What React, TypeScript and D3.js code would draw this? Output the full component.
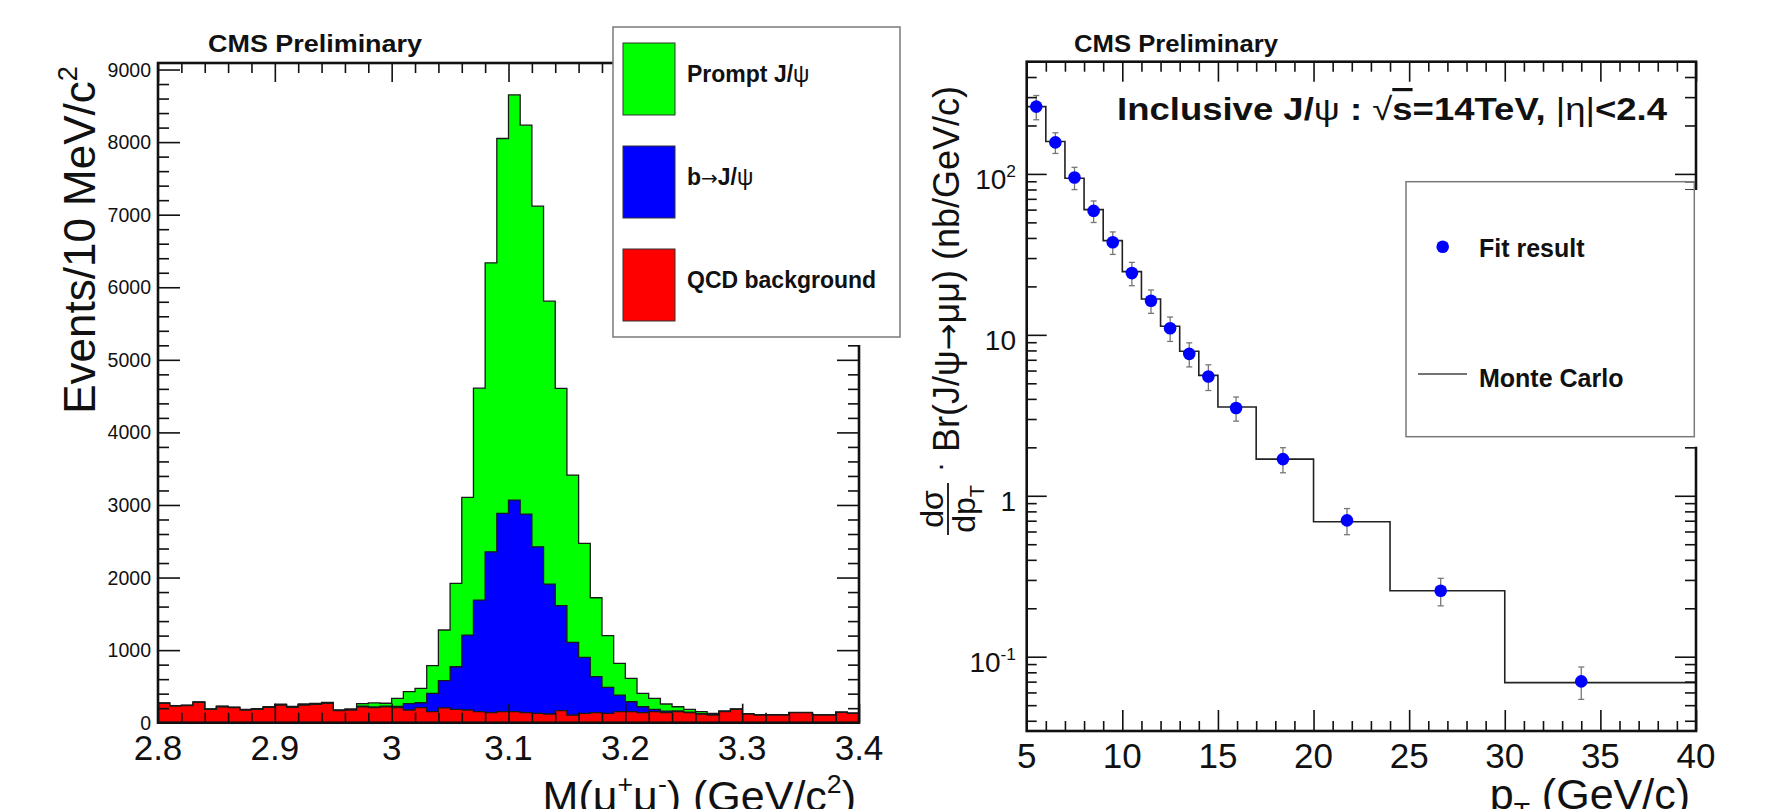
import React, { useEffect, useRef } from "react";
import * as d3 from "d3";

// Left panel: dimuon invariant mass, 10 MeV bins from 2.8 to 3.4 GeV/c2
const massLow = 2.8;
const massHigh = 3.4;
const massBin = 0.01;

const qcdBackground = [
  265, 230, 235, 280, 184, 220, 207, 175, 184, 211,
  244, 211, 244, 253, 267, 166, 175, 220, 207, 220,
  207, 175, 207, 152, 205, 184, 175, 152, 138, 152,
  152, 138, 129, 120, 166, 106, 129, 138, 129, 152,
  152, 138, 152, 138, 152, 138, 120, 106, 152, 184,
  120, 106, 106, 106, 138, 138, 106, 106, 143, 129,
];

const bToJpsi = [
  3, 3, 3, 3, 3, 3, 3, 3, 4, 4,
  4, 5, 5, 5, 5, 4, 5, 8, 9, 8,
  18, 87, 68, 253, 375, 587, 1033, 1538, 2217, 2732,
  2916, 2737, 2295, 1790, 1446, 1001, 772, 496, 359, 229,
  137, 82, 32, 22, 10, 8, 6, 4, 3, 2,
  2, 2, 2, 2, 2, 1, 1, 1, 1, 1,
];

const promptJpsi = [
  4, 3, 4, 4, 4, 5, 5, 5, 5, 7,
  7, 9, 9, 8, 8, 8, 10, 34, 56, 40,
  111, 165, 199, 381, 697, 1149, 1897, 2920, 3981, 5166,
  5582, 5358, 4693, 3898, 2994, 2305, 1570, 1088, 711, 437,
  322, 185, 152, 98, 58, 38, 26, 19, 7, 4,
  3, 3, 3, 3, 2, 2, 2, 2, 2, 2,
];

const massTicks = [2.8, 2.9, 3.0, 3.1, 3.2, 3.3, 3.4];
const massTickLabels = ["2.8", "2.9", "3", "3.1", "3.2", "3.3", "3.4"];
const eventTicks = [0, 1000, 2000, 3000, 4000, 5000, 6000, 7000, 8000, 9000];
const stackLegend = ["Prompt J/", "b", "QCD background"];

// Right panel: differential cross section vs pT
const ptBinEdges = [5, 6, 7, 8, 9, 10, 11, 12, 13, 14, 15, 17, 20, 24, 30, 40];
const ptPoints = [5.5, 6.5, 7.5, 8.5, 9.5, 10.5, 11.5, 12.5, 13.5, 14.5, 15.95, 18.4, 21.75, 26.65, 34.0];
const fitResult = [262, 157, 94.9, 58.9, 37.6, 24.2, 16.3, 11.0, 7.62, 5.51, 3.51, 1.69, 0.703, 0.257, 0.0703];
const fitError = [45, 23, 15, 9, 6, 4, 2.7, 1.9, 1.3, 1.0, 0.6, 0.3, 0.13, 0.05, 0.016];
const monteCarlo = [262, 159, 94, 60, 38.5, 24.7, 16.7, 11.3, 7.9, 5.6, 3.56, 1.69, 0.69, 0.257, 0.069];
const ptTicks = [5, 10, 15, 20, 25, 30, 35, 40];
const sigmaTicks = [0.1, 1, 10, 100];
const sigmaTickLabels = [["10", "-1"], ["1", ""], ["10", ""], ["10", "2"]];

const FONT = "'Liberation Sans', Arial, Helvetica, sans-serif";
const ARROW_FONT = "'DejaVu Sans', sans-serif";
const INK = "#111";

// appends tspans, kind: n = normal, sup, sub
function rich(text: any, parts: [string, string][], fs: number) {
  let shift = 0;
  parts.forEach(([s, kind]) => {
    const target = kind === "sup" ? -0.42 * fs : kind === "sub" ? 0.28 * fs : 0;
    text.append("tspan")
      .attr("dy", target - shift)
      .attr("font-size", kind === "n" ? fs : fs * 0.62)
      .text(s);
    shift = target;
  });
  return text;
}

function ticks(g: any, axis: any, transform: string) {
  const a = g.append("g").attr("transform", transform).call(axis);
  a.select(".domain").remove();
  a.selectAll("text").remove();
  a.selectAll("line").attr("stroke", INK).attr("stroke-width", 1.6);
  return a;
}

function drawMassPanel(g: any) {
  const left = 158, right = 859, top = 63, bottom = 722.7;
  const x = d3.scaleLinear().domain([massLow, massHigh]).range([left, right]);
  const y = d3.scaleLinear().domain([0, 9090]).range([bottom, top]);

  const redTop = qcdBackground;
  const blueTop = redTop.map((v, i) => v + bToJpsi[i]);
  const greenTop = blueTop.map((v, i) => v + promptJpsi[i]);

  const steps = (vals: number[]) => [
    ...vals.map((v, i) => [massLow + i * massBin, v] as [number, number]),
    [massHigh, vals[vals.length - 1]] as [number, number],
  ];
  const area = d3.area<[number, number]>()
    .x(d => x(d[0]))
    .y0(y(0))
    .y1(d => y(d[1]))
    .curve(d3.curveStepAfter);

  const layers: [number[], string][] = [[greenTop, "#00ff00"], [blueTop, "#0000ff"], [redTop, "#ff0000"]];
  layers.forEach(([vals, color]) => {
    g.append("path")
      .attr("d", area(steps(vals)))
      .attr("fill", color)
      .attr("stroke", "#1a1a1a")
      .attr("stroke-width", 1.3);
  });

  const minorX = x.ticks(30).filter(t => !massTicks.some(m => Math.abs(m - t) < 1e-6));
  const minorY = y.ticks(45).filter(t => t % 1000 !== 0);

  ticks(g, d3.axisBottom(x).tickValues(massTicks).tickSize(-19).tickSizeOuter(0), `translate(0,${bottom})`);
  ticks(g, d3.axisBottom(x).tickValues(minorX).tickSize(-10).tickSizeOuter(0), `translate(0,${bottom})`);
  ticks(g, d3.axisTop(x).tickValues(massTicks).tickSize(-19).tickSizeOuter(0), `translate(0,${top})`);
  ticks(g, d3.axisTop(x).tickValues(minorX).tickSize(-10).tickSizeOuter(0), `translate(0,${top})`);
  ticks(g, d3.axisLeft(y).tickValues(eventTicks).tickSize(-22).tickSizeOuter(0), `translate(${left},0)`);
  ticks(g, d3.axisLeft(y).tickValues(minorY).tickSize(-11).tickSizeOuter(0), `translate(${left},0)`);
  ticks(g, d3.axisRight(y).tickValues(eventTicks).tickSize(-22).tickSizeOuter(0), `translate(${right},0)`);
  ticks(g, d3.axisRight(y).tickValues(minorY).tickSize(-11).tickSizeOuter(0), `translate(${right},0)`);

  g.append("rect")
    .attr("x", left).attr("y", top)
    .attr("width", right - left).attr("height", bottom - top)
    .attr("fill", "none").attr("stroke", INK).attr("stroke-width", 2.6);

  massTicks.forEach((t, i) => {
    g.append("text")
      .attr("x", x(t)).attr("y", 760)
      .attr("text-anchor", "middle").attr("font-size", 35)
      .text(massTickLabels[i]);
  });
  eventTicks.forEach(t => {
    g.append("text")
      .attr("x", 151).attr("y", y(t) + 7)
      .attr("text-anchor", "end").attr("font-size", 19.5)
      .text(String(t));
  });

  rich(g.append("text").attr("text-anchor", "end").attr("transform", "translate(95,66) rotate(-90)"),
    [["Events/10 MeV/c", "n"], ["2", "sup"]], 44);

  rich(g.append("text").attr("x", 856).attr("y", 811).attr("text-anchor", "end"),
    [["M(μ", "n"], ["+", "sup"], ["μ", "n"], ["-", "sup"], [") (GeV/c", "n"], ["2", "sup"], [")", "n"]], 43);

  g.append("text")
    .attr("x", 208).attr("y", 52)
    .attr("font-size", 24).attr("font-weight", 700)
    .attr("textLength", 214).attr("lengthAdjust", "spacingAndGlyphs")
    .text("CMS Preliminary");

  // legend
  g.append("rect").attr("x", 613).attr("y", 35).attr("width", 290).attr("height", 310).attr("fill", "#fff");
  g.append("rect").attr("x", 613).attr("y", 27).attr("width", 287).attr("height", 310)
    .attr("fill", "none").attr("stroke", "#7a7a7a").attr("stroke-width", 1.5);
  const boxY = [43, 146, 249];
  const colors = ["#00ff00", "#0000ff", "#ff0000"];
  stackLegend.forEach((label, i) => {
    g.append("rect").attr("x", 623).attr("y", boxY[i]).attr("width", 52).attr("height", 72)
      .attr("fill", colors[i]).attr("stroke", "#333").attr("stroke-width", 1);
    const t = g.append("text").attr("x", 687).attr("y", boxY[i] + 39)
      .attr("font-size", 23).attr("font-weight", 700);
    t.append("tspan").text(label);
    if (i === 0) t.append("tspan").attr("font-weight", 400).text("ψ");
    if (i === 1) {
      t.append("tspan").attr("font-weight", 400).attr("font-family", ARROW_FONT).attr("font-size", 20).text("→");
      t.append("tspan").text("J/");
      t.append("tspan").attr("font-weight", 400).text("ψ");
    }
  });
}

function drawPtPanel(g: any) {
  const left = 1026.7, right = 1696, top = 61.7, bottom = 731;
  const x = d3.scaleLinear().domain([5, 40]).range([left, right]);
  const y = d3.scaleLog().domain([0.03455, 498]).range([bottom, top]);

  const mcSteps = [
    ...monteCarlo.map((v, i) => [ptBinEdges[i], v] as [number, number]),
    [40, monteCarlo[monteCarlo.length - 1]] as [number, number],
  ];
  const line = d3.line<[number, number]>()
    .x(d => x(d[0]))
    .y(d => y(d[1]))
    .curve(d3.curveStepAfter);
  g.append("path").attr("d", line(mcSteps)).attr("fill", "none")
    .attr("stroke", "#222").attr("stroke-width", 1.6);

  ptPoints.forEach((p, i) => {
    const px = x(p);
    const y1 = y(fitResult[i] - fitError[i]);
    const y2 = y(fitResult[i] + fitError[i]);
    g.append("line").attr("x1", px).attr("x2", px).attr("y1", y1).attr("y2", y2)
      .attr("stroke", "#777").attr("stroke-width", 1.3);
    [y1, y2].forEach(yy => {
      g.append("line").attr("x1", px - 3).attr("x2", px + 3).attr("y1", yy).attr("y2", yy)
        .attr("stroke", "#777").attr("stroke-width", 1.3);
    });
  });
  ptPoints.forEach((p, i) => {
    g.append("circle").attr("cx", x(p)).attr("cy", y(fitResult[i])).attr("r", 6.3).attr("fill", "#0000ff");
  });

  const minorX = x.ticks(35).filter(t => t % 5 !== 0);
  const minorY = y.ticks().filter(t => !sigmaTicks.some(m => Math.abs(m - t) / m < 1e-6));

  ticks(g, d3.axisBottom(x).tickValues(ptTicks).tickSize(-21).tickSizeOuter(0), `translate(0,${bottom})`);
  ticks(g, d3.axisBottom(x).tickValues(minorX).tickSize(-10).tickSizeOuter(0), `translate(0,${bottom})`);
  ticks(g, d3.axisTop(x).tickValues(ptTicks).tickSize(-20).tickSizeOuter(0), `translate(0,${top})`);
  ticks(g, d3.axisTop(x).tickValues(minorX).tickSize(-10).tickSizeOuter(0), `translate(0,${top})`);
  ticks(g, d3.axisLeft(y).tickValues(sigmaTicks).tickSize(-20).tickSizeOuter(0), `translate(${left},0)`);
  ticks(g, d3.axisLeft(y).tickValues(minorY).tickSize(-10).tickSizeOuter(0), `translate(${left},0)`);
  ticks(g, d3.axisRight(y).tickValues(sigmaTicks).tickSize(-21).tickSizeOuter(0), `translate(${right},0)`);
  ticks(g, d3.axisRight(y).tickValues(minorY).tickSize(-11).tickSizeOuter(0), `translate(${right},0)`);

  g.append("rect")
    .attr("x", left).attr("y", top)
    .attr("width", right - left).attr("height", bottom - top)
    .attr("fill", "none").attr("stroke", INK).attr("stroke-width", 2.6);

  ptTicks.forEach(t => {
    g.append("text")
      .attr("x", x(t)).attr("y", 768)
      .attr("text-anchor", "middle").attr("font-size", 35)
      .text(String(t));
  });
  sigmaTicks.forEach((t, i) => {
    const [base, exp] = sigmaTickLabels[i];
    const txt = g.append("text").attr("x", 1016).attr("y", y(t) + 15).attr("text-anchor", "end");
    rich(txt, exp ? [[base, "n"], [exp, "sup"]] : [[base, "n"]], 28);
  });

  // y title: d sigma / d pT . Br(J/psi -> mu mu) (nb/GeV/c)
  const yt = g.append("g").attr("transform", "translate(959,540) rotate(-90)");
  yt.append("text").attr("x", 31).attr("y", -16).attr("text-anchor", "middle").attr("font-size", 32).text("dσ");
  yt.append("line").attr("x1", 5).attr("x2", 57).attr("y1", -11).attr("y2", -11)
    .attr("stroke", "#111").attr("stroke-width", 1.8);
  rich(yt.append("text").attr("x", 31).attr("y", 16).attr("text-anchor", "middle"),
    [["dp", "n"], ["T", "sub"]], 32);
  yt.append("text").attr("x", 73).attr("y", -10).attr("text-anchor", "middle").attr("font-size", 30).text("·");
  const br = yt.append("text").attr("x", 88).attr("y", 0).attr("font-size", 36);
  br.append("tspan").text("Br(J/ψ");
  br.append("tspan").attr("font-family", ARROW_FONT).attr("font-size", 32).text("→");
  br.append("tspan").text("μμ) (nb/GeV/c)");

  rich(g.append("text").attr("x", 1690).attr("y", 809).attr("text-anchor", "end"),
    [["p", "n"], ["T", "sub"], [" (GeV/c)", "n"]], 43);

  g.append("text")
    .attr("x", 1074).attr("y", 52)
    .attr("font-size", 24).attr("font-weight", 700)
    .attr("textLength", 204).attr("lengthAdjust", "spacingAndGlyphs")
    .text("CMS Preliminary");

  const title = g.append("text")
    .attr("x", 1117).attr("y", 120)
    .attr("font-size", 32).attr("font-weight", 700)
    .attr("textLength", 550).attr("lengthAdjust", "spacingAndGlyphs");
  title.append("tspan").text("Inclusive J/");
  title.append("tspan").attr("font-weight", 400).text("ψ");
  title.append("tspan").text(" : ");
  title.append("tspan").attr("font-weight", 400).text("√");
  title.append("tspan").attr("text-decoration", "overline").text("s");
  title.append("tspan").text("=14TeV, ");
  title.append("tspan").attr("font-weight", 400).text("|η|");
  title.append("tspan").text("<2.4");

  // legend
  g.append("rect").attr("x", 1406).attr("y", 190).attr("width", 294).attr("height", 256.7).attr("fill", "#fff");
  g.append("rect").attr("x", 1406).attr("y", 181.7).attr("width", 288.3).attr("height", 255)
    .attr("fill", "none").attr("stroke", "#7a7a7a").attr("stroke-width", 1.5);
  g.append("circle").attr("cx", 1442.7).attr("cy", 246.7).attr("r", 6.3).attr("fill", "#0000ff");
  g.append("text").attr("x", 1479).attr("y", 256.5).attr("font-size", 25).attr("font-weight", 700).text("Fit result");
  g.append("line").attr("x1", 1418).attr("x2", 1467).attr("y1", 374).attr("y2", 374)
    .attr("stroke", "#444").attr("stroke-width", 1.3);
  g.append("text").attr("x", 1479).attr("y", 386.5).attr("font-size", 25).attr("font-weight", 700).text("Monte Carlo");
}

const App = () => {
  const svgRef = useRef<SVGSVGElement>(null);

  useEffect(() => {
    const svg = d3.select(svgRef.current);
    svg.selectAll("*").remove();
    const root = svg.append("g").attr("font-family", FONT).attr("fill", INK);
    drawMassPanel(root.append("g"));
    drawPtPanel(root.append("g"));
  }, []);

  return (
    <svg
      ref={svgRef}
      width={1772}
      height={809}
      style={{ position: "absolute", left: 0, top: 0, background: "#fff" }}
    />
  );
};

export default App;
